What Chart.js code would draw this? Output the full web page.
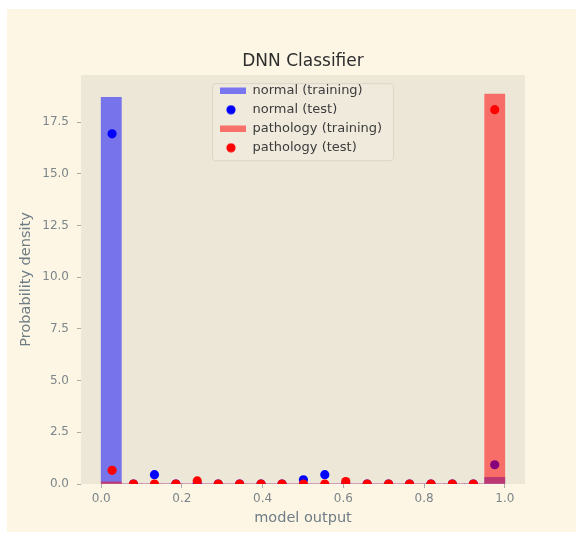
<!DOCTYPE html>
<html>
<head>
<meta charset="utf-8">
<script src="https://cdn.jsdelivr.net/npm/chart.js@4"></script>
<style>
    html, body { margin: 0; padding: 0; background: #ffffff; }
    #frame {
        position: absolute;
        left: 7px;
        top: 9px;
        width: 569px;
        height: 523px;
        background: #fdf6e4;
    }
</style>
</head>
<body>
<div id="frame"><canvas id="histChart" width="569" height="523"></canvas></div>
<script>
// HISTOGRAM BINS (training, width 0.05)
const binCenters = [0.025, 0.075, 0.125, 0.175, 0.225, 0.275, 0.325, 0.375, 0.425, 0.475,
                    0.525, 0.575, 0.625, 0.675, 0.725, 0.775, 0.825, 0.875, 0.925, 0.975];
const normalTraining    = [18.7, 0, 0, 0, 0, 0, 0, 0, 0, 0, 0, 0, 0, 0, 0, 0, 0, 0, 0, 0.32];
const pathologyTraining = [0.1, 0, 0, 0, 0, 0, 0, 0, 0, 0, 0, 0, 0, 0, 0, 0, 0, 0, 0, 18.85];

// TEST POINTS (bin centres of the test histogram)
const testCenters = [0.027, 0.080, 0.132, 0.185, 0.238, 0.290, 0.343, 0.396, 0.448, 0.501,
                     0.554, 0.606, 0.659, 0.712, 0.764, 0.817, 0.870, 0.922, 0.975];
const normalTest    = [16.93, 0, 0.45, 0, 0, 0, 0, 0, 0, 0.2, 0.45, 0, 0, 0, 0, 0, 0, 0, 0.93];
const pathologyTest = [0.66, 0, 0, 0, 0.15, 0, 0, 0, 0, 0, 0, 0.12, 0, 0, 0, 0, 0, 0, 18.1];

// AXIS TICKS
const xTicks = [0, 0.2, 0.4, 0.6, 0.8, 1.0];
const yTicks = [0, 2.5, 5, 7.5, 10, 12.5, 15, 17.5];

const FONT = "'DejaVu Sans', sans-serif";
const LEGEND_LEFT = 207;
const LEGEND_TOP = 69.2;

function toPoints(xs, ys) {
    return xs.map((x, i) => ({ x, y: ys[i] }));
}

// small round marker for the legend (circle sits a bit left of the box centre)
function legendDot(color) {
    const c = document.createElement("canvas");
    c.width = 14;
    c.height = 10;
    const g = c.getContext("2d");
    g.fillStyle = color;
    g.beginPath();
    g.arc(5, 5, 4.6, 0, Math.PI * 2);
    g.fill();
    return c;
}

// axes face + legend frame, legend moved inside the plot, marks clipped to the axes
const plotBackground = {
    id: "plotBackground",
    afterLayout(chart) {
        chart.legend.left = LEGEND_LEFT;
        chart.legend.top = LEGEND_TOP;
    },
    beforeDraw(chart) {
        const { ctx, chartArea: a } = chart;
        ctx.save();
        ctx.fillStyle = "#ede7d7";
        ctx.fillRect(a.left, a.top, a.right - a.left, a.bottom - a.top);

        ctx.beginPath();
        ctx.roundRect(LEGEND_LEFT - 1.5, LEGEND_TOP + 5.5, 181, 77, 3);
        ctx.fillStyle = "rgba(240, 235, 222, 0.8)";
        ctx.fill();
        ctx.strokeStyle = "#dcd6c6";
        ctx.lineWidth = 1;
        ctx.stroke();
        ctx.restore();
    },
    beforeDatasetsDraw(chart) {
        const { ctx, chartArea: a } = chart;
        ctx.save();
        ctx.beginPath();
        ctx.rect(a.left, a.top, a.right - a.left, a.bottom - a.top);
        ctx.clip();
    },
    afterDatasetsDraw(chart) {
        chart.ctx.restore();
    }
};

const ctx = document.getElementById("histChart");
new Chart(ctx, {
    type: "bar",
    data: {
        datasets: [
            {
                type: "bar",
                label: "normal (training)",
                data: toPoints(binCenters, normalTraining),
                backgroundColor: "rgba(0, 0, 255, 0.5)",
                borderWidth: 0,
                grouped: false,
                barPercentage: 1,
                categoryPercentage: 1,
                order: 3
            },
            {
                type: "scatter",
                label: "normal (test)",
                data: toPoints(testCenters, normalTest),
                backgroundColor: "#0000ff",
                borderColor: "#0000ff",
                borderWidth: 0,
                pointRadius: 4.6,
                clip: 0,
                order: 2
            },
            {
                type: "bar",
                label: "pathology (training)",
                data: toPoints(binCenters, pathologyTraining),
                backgroundColor: "rgba(255, 0, 0, 0.52)",
                borderWidth: 0,
                grouped: false,
                barPercentage: 1,
                categoryPercentage: 1,
                order: 1
            },
            {
                type: "scatter",
                label: "pathology (test)",
                data: toPoints(testCenters, pathologyTest),
                backgroundColor: "#ff0000",
                borderColor: "#ff0000",
                borderWidth: 0,
                pointRadius: 4.6,
                clip: 0,
                order: 0
            }
        ]
    },
    options: {
        responsive: false,
        animation: false,
        devicePixelRatio: 1,
        layout: { padding: { left: 0, top: 0, right: 51, bottom: 0 } },
        plugins: {
            title: {
                display: true,
                text: "DNN Classifier",
                fullSize: false,
                color: "#2e2e2e",
                font: { family: FONT, size: 17, weight: "normal" },
                padding: { top: 42, bottom: 3.5 }
            },
            legend: {
                position: "chartArea",
                align: "start",
                labels: {
                    usePointStyle: true,
                    pointStyleWidth: 26,
                    boxHeight: 6.5,
                    padding: 6,
                    color: "#3c3c3c",
                    font: { family: FONT, size: 13 },
                    sort: (a, b) => a.datasetIndex - b.datasetIndex,
                    generateLabels(chart) {
                        const items = Chart.defaults.plugins.legend.labels.generateLabels(chart);
                        items.forEach(item => {
                            const ds = chart.data.datasets[item.datasetIndex];
                            item.pointStyle = ds.type === "scatter" ? legendDot(ds.backgroundColor) : "rect";
                            item.lineWidth = 0;
                        });
                        return items;
                    }
                }
            },
            tooltip: { enabled: false }
        },
        scales: {
            x: {
                type: "linear",
                min: -0.05,
                max: 1.05,
                offset: false,
                border: { display: false },
                grid: { display: true, drawOnChartArea: false, drawTicks: true, tickLength: 4, color: "#a9aca6", offset: false },
                afterBuildTicks(scale) { scale.ticks = xTicks.map(v => ({ value: v })); },
                afterFit(scale) { scale.height = 48; },
                ticks: {
                    color: "#7c858a",
                    padding: 3.5,
                    font: { family: FONT, size: 12 },
                    callback: v => v.toFixed(1)
                },
                title: {
                    display: true,
                    text: "model output",
                    color: "#6f7d86",
                    font: { family: FONT, size: 14.5 },
                    padding: { top: 0, bottom: 5.3 }
                }
            },
            y: {
                type: "linear",
                min: 0,
                max: 19.78,
                border: { display: false },
                grid: { display: true, drawOnChartArea: false, drawTicks: true, tickLength: 4, color: "#a9aca6" },
                afterBuildTicks(scale) { scale.ticks = yTicks.map(v => ({ value: v })); },
                afterFit(scale) { scale.width = 74; },
                ticks: {
                    color: "#7c858a",
                    padding: 8,
                    font: { family: FONT, size: 12 },
                    callback: v => v.toFixed(1)
                },
                title: {
                    display: true,
                    text: "Probability density",
                    color: "#6f7d86",
                    font: { family: FONT, size: 14.5 },
                    padding: { top: 10.3, bottom: 0 }
                }
            }
        }
    },
    plugins: [plotBackground]
});
</script>
</body>
</html>
